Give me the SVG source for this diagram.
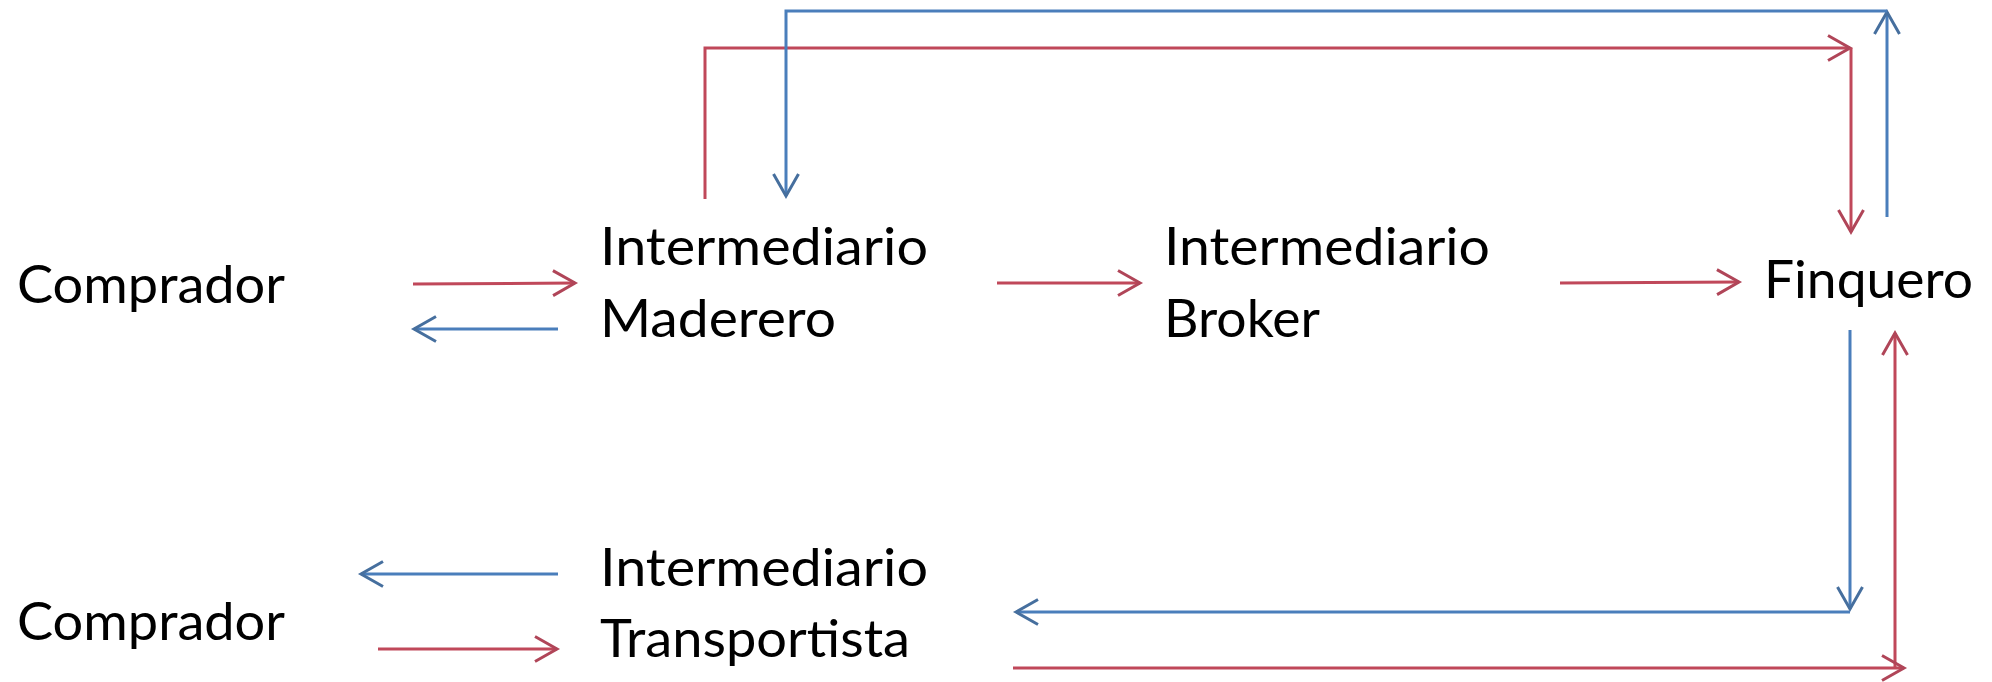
<svg xmlns="http://www.w3.org/2000/svg" width="1992" height="682" viewBox="0 0 1992 682">
<style>
  .lbl { font-family: Lato, "Open Sans", "Liberation Sans", sans-serif; font-size: 52px; fill: #000; }
  .red { fill: none; stroke: #C0485A; stroke-width: 3; }
  .blue { fill: none; stroke: #4A7EBB; stroke-width: 3; }
</style>
<defs>
  <marker id="arR" viewBox="-26 -16 30 32" refX="0" refY="0" markerWidth="30" markerHeight="32" markerUnits="userSpaceOnUse" orient="auto" overflow="visible">
    <path d="M-22,-12.5 L0,0 L-22,12.5" fill="none" stroke="#B04558" stroke-width="3" stroke-linejoin="miter"/>
  </marker>
  <marker id="arB" viewBox="-26 -16 30 32" refX="0" refY="0" markerWidth="30" markerHeight="32" markerUnits="userSpaceOnUse" orient="auto" overflow="visible">
    <path d="M-22,-12.5 L0,0 L-22,12.5" fill="none" stroke="#466F9E" stroke-width="3" stroke-linejoin="miter"/>
  </marker>
</defs>
<rect width="1992" height="682" fill="#fff"/>
<g id="connectors">
  <line class="red" x1="413" y1="284" x2="575" y2="283" marker-end="url(#arR)"/>
  <line class="blue" x1="558" y1="329" x2="414" y2="329" marker-end="url(#arB)"/>
  <line class="red" x1="997" y1="283" x2="1140" y2="283" marker-end="url(#arR)"/>
  <line class="red" x1="1560" y1="283" x2="1739" y2="282" marker-end="url(#arR)"/>
  <polyline class="red" points="705,199 705,48 1850,48" marker-end="url(#arR)"/>
  <line class="red" x1="1851" y1="48" x2="1851" y2="232" marker-end="url(#arR)"/>
  <line class="blue" x1="1887" y1="217" x2="1887" y2="12" marker-end="url(#arB)"/>
  <polyline class="blue" points="1887,11 786,11 786,196" marker-end="url(#arB)"/>
  <line class="blue" x1="1850" y1="330" x2="1850" y2="609" marker-end="url(#arB)"/>
  <line class="blue" x1="1850" y1="612" x2="1016" y2="612" marker-end="url(#arB)"/>
  <line class="red" x1="1895" y1="668" x2="1895" y2="333" marker-end="url(#arR)"/>
  <line class="red" x1="1013" y1="668" x2="1904" y2="668" marker-end="url(#arR)"/>
  <line class="blue" x1="558" y1="574" x2="361" y2="574" marker-end="url(#arB)"/>
  <line class="red" x1="378" y1="649" x2="557" y2="649" marker-end="url(#arR)"/>
</g>
<g id="comprador1"><text class="lbl" x="17" y="303" textLength="268" lengthAdjust="spacingAndGlyphs">Comprador</text></g>
<g id="maderero">
  <text class="lbl" x="600" y="265" textLength="328" lengthAdjust="spacingAndGlyphs">Intermediario</text>
  <text class="lbl" x="600" y="337" textLength="236" lengthAdjust="spacingAndGlyphs">Maderero</text>
</g>
<g id="broker">
  <text class="lbl" x="1164" y="265" textLength="326" lengthAdjust="spacingAndGlyphs">Intermediario</text>
  <text class="lbl" x="1164" y="337" textLength="156" lengthAdjust="spacingAndGlyphs">Broker</text>
</g>
<g id="finquero"><text class="lbl" x="1764" y="298" textLength="209" lengthAdjust="spacingAndGlyphs">Finquero</text></g>
<g id="comprador2"><text class="lbl" x="17" y="640" textLength="268" lengthAdjust="spacingAndGlyphs">Comprador</text></g>
<g id="transportista">
  <text class="lbl" x="600" y="586" textLength="328" lengthAdjust="spacingAndGlyphs">Intermediario</text>
  <text class="lbl" x="600" y="657" textLength="310" lengthAdjust="spacingAndGlyphs">Transportista</text>
</g>
</svg>
